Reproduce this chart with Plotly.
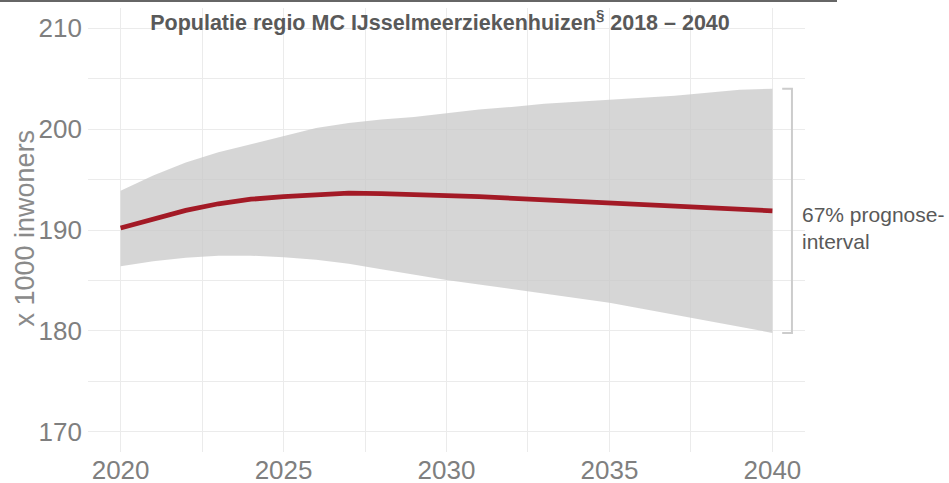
import plotly.graph_objects as go

years = list(range(2020, 2041))
mid = [190.2, 191.1, 191.95, 192.6, 193.05, 193.3, 193.5, 193.65, 193.6, 193.45,
       193.4, 193.3, 193.15, 193.0, 192.85, 192.7, 192.5, 192.3, 192.2, 192.1, 191.9]
upper = [193.9, 195.4, 196.7, 197.7, 198.5, 199.3, 200.1, 200.6, 200.95, 201.2,
         201.6, 201.95, 202.2, 202.5, 202.7, 202.9, 203.1, 203.3, 203.6, 203.9, 204.0]
lower = [186.4, 186.9, 187.25, 187.45, 187.45, 187.3, 187.05, 186.65, 186.1, 185.55,
         185.05, 184.6, 184.15, 183.7, 183.3, 182.8, 182.2, 181.6, 181.0, 180.4, 179.8]

title_text = "Populatie regio MC IJsselmeerziekenhuizen<sup>§</sup> 2018 – 2040"
band_label = "67% prognose-<br>interval"
y_title = "x 1000 inwoners"

FONT = "Liberation Sans, Arial"

fig = go.Figure()
fig.add_trace(go.Scatter(x=years, y=upper, mode="lines", line=dict(width=0),
                         hoverinfo="skip", showlegend=False))
fig.add_trace(go.Scatter(x=years, y=lower, mode="lines", line=dict(width=0),
                         fill="tonexty", fillcolor="rgba(200,200,200,0.75)",
                         hoverinfo="skip", showlegend=False))
fig.add_trace(go.Scatter(x=years, y=mid, mode="lines",
                         line=dict(color="#a31a26", width=4.8), showlegend=False))

grid = "#ebebeb"
fig.update_xaxes(range=[2019.0, 2041.0], tickvals=[2020, 2025, 2030, 2035, 2040],
                 showgrid=True, gridcolor=grid, gridwidth=1, automargin=False,
                 minor=dict(dtick=2.5, tick0=2020, showgrid=True, gridcolor=grid, gridwidth=1),
                 zeroline=False, showline=False, ticks="", ticklabelstandoff=0,
                 tickfont=dict(family=FONT, size=26, color="#7f7f7f"))
fig.update_yaxes(range=[168.0, 212.0], tickvals=[170, 180, 190, 200, 210],
                 showgrid=True, gridcolor=grid, gridwidth=1, automargin=False,
                 minor=dict(dtick=5, tick0=170, showgrid=True, gridcolor=grid, gridwidth=1),
                 zeroline=False, showline=False, ticks="", ticklabelstandoff=5,
                 tickfont=dict(family=FONT, size=26, color="#7f7f7f"))

# y-axis title as rotated annotation
fig.add_annotation(x=(24 - 88) / 717, y=(452 - 228.5) / 444, xref="paper", yref="paper",
                   text=y_title, textangle=-90, showarrow=False,
                   xanchor="center", yanchor="middle",
                   font=dict(family=FONT, size=27, color="#8a8a8a"))

# bracket for the prognosis interval
bx = 2040.6
bx0 = 2040.3
fig.add_shape(type="path",
              path=f"M {bx0},{upper[-1]} L {bx},{upper[-1]} L {bx},{lower[-1]} L {bx0},{lower[-1]}",
              line=dict(color="#cccccc", width=2), xref="x", yref="y", layer="above")
fig.add_annotation(x=2040.85, y=190.2, xref="x", yref="y",
                   text=band_label, showarrow=False, xanchor="left", yanchor="middle",
                   align="left",
                   font=dict(family=FONT, size=21, color="#595959"))

# top rule
fig.add_shape(type="line", xref="paper", yref="paper",
              x0=-88 / 717, x1=(837 - 88) / 717, y0=(452 - 1) / 444, y1=(452 - 1) / 444,
              line=dict(color="#666666", width=2))

fig.update_layout(
    width=949, height=483,
    margin=dict(l=88, r=144, t=8, b=31, autoexpand=False),
    paper_bgcolor="white", plot_bgcolor="white",
    title=dict(text="<b>" + title_text + "</b>", x=440 / 949, xanchor="center",
               y=1 - 22 / 483, yanchor="middle", yref="container",
               font=dict(family=FONT, size=21.5, color="#595959")),
)

fig.write_html("out.html", config={"displayModeBar": False},
               post_script="document.body.style.margin='0';")
